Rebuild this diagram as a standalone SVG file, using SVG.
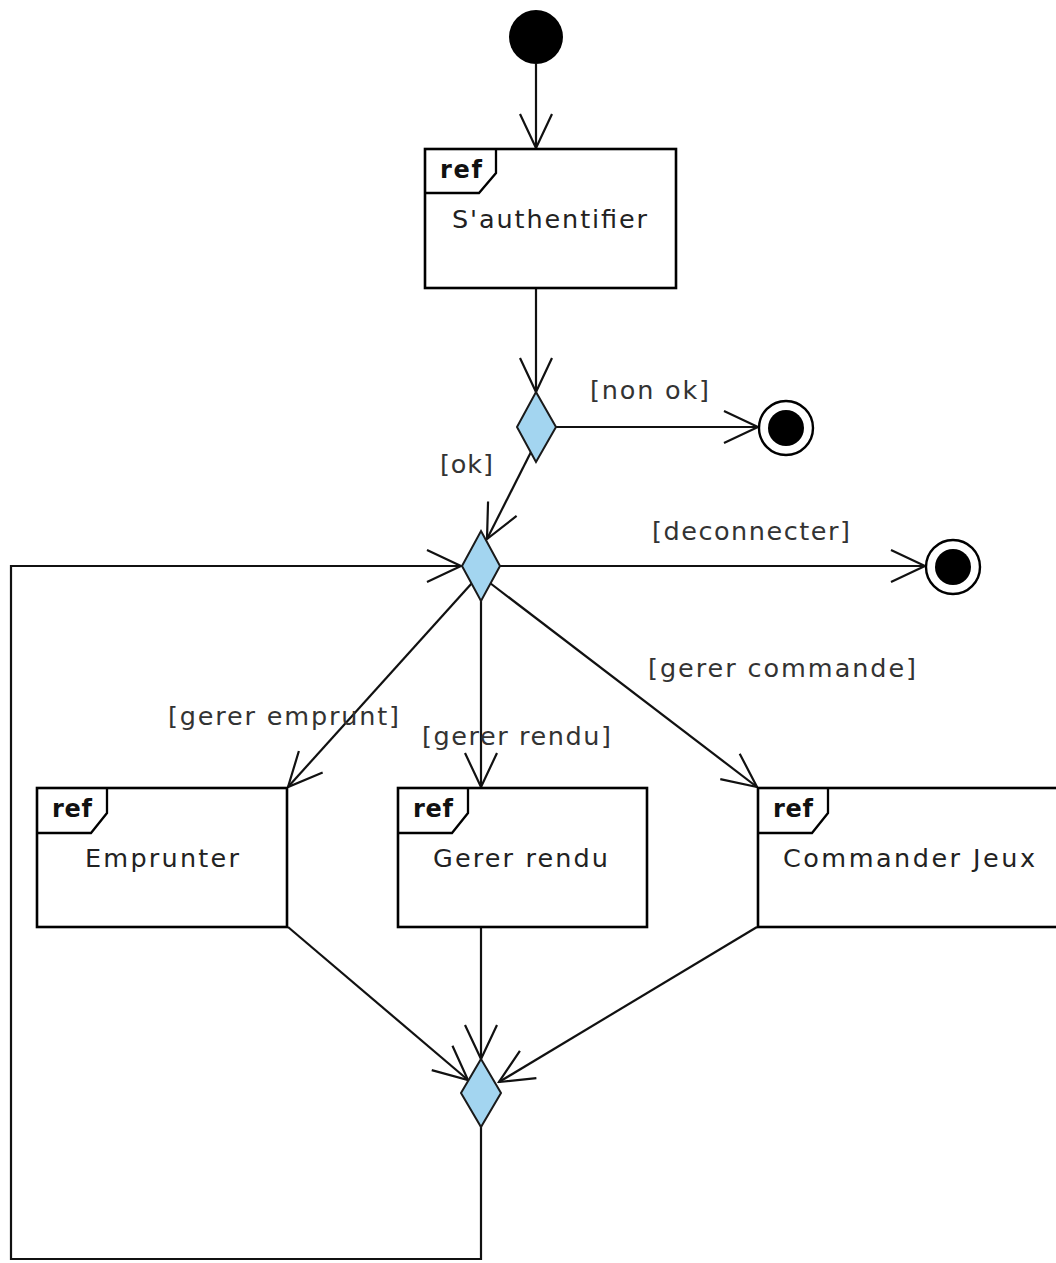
<svg xmlns="http://www.w3.org/2000/svg" width="1056" height="1263" viewBox="0 0 1056 1263">
<style>
  .box { fill: #ffffff; stroke: #000000; stroke-width: 2.6; }
  .tab { fill: none; stroke: #000000; stroke-width: 2.3; }
  .dec { fill: #a3d5f0; stroke: #1a1a1a; stroke-width: 2; }
  .conn { fill: none; stroke: #111111; stroke-width: 2.2; }
  .lbl { font-family: "DejaVu Sans", "Liberation Sans", sans-serif; font-size: 25.5px; fill: #333333; }
  .name { font-family: "DejaVu Sans", "Liberation Sans", sans-serif; font-size: 25.5px; fill: #222222; }
  .ref { font-family: "DejaVu Sans", "Liberation Sans", sans-serif; font-size: 24px; font-weight: bold; fill: #111111; }
</style>
<defs>
  <marker id="arr" viewBox="-38 -20 40 40" refX="0" refY="0" markerWidth="40" markerHeight="40" markerUnits="userSpaceOnUse" orient="auto">
    <path d="M -34 -16 L 0 0 L -34 16" fill="none" stroke="#111111" stroke-width="2.2"/>
  </marker>
</defs>

<g id="connectors">
  <line class="conn" x1="536" y1="64" x2="536" y2="148" marker-end="url(#arr)"/>
  <line class="conn" x1="536" y1="288" x2="536" y2="392" marker-end="url(#arr)"/>
  <line class="conn" x1="556" y1="427" x2="758" y2="427" marker-end="url(#arr)"/>
  <line class="conn" x1="533" y1="448" x2="487" y2="539" marker-end="url(#arr)"/>
  <line class="conn" x1="500" y1="566" x2="925" y2="566" marker-end="url(#arr)"/>
  <line class="conn" x1="472" y1="583" x2="288" y2="787" marker-end="url(#arr)"/>
  <line class="conn" x1="481" y1="600" x2="481" y2="787" marker-end="url(#arr)"/>
  <line class="conn" x1="490" y1="583" x2="757" y2="787" marker-end="url(#arr)"/>
  <line class="conn" x1="288" y1="927" x2="468" y2="1080" marker-end="url(#arr)"/>
  <line class="conn" x1="481" y1="927" x2="481" y2="1059" marker-end="url(#arr)"/>
  <line class="conn" x1="757" y1="927" x2="499" y2="1082" marker-end="url(#arr)"/>
  <polyline class="conn" points="481,1126 481,1259 11,1259 11,566 461,566" marker-end="url(#arr)"/>
  <text class="lbl" x="590" y="399" textLength="119" lengthAdjust="spacing">[non ok]</text>
  <text class="lbl" x="440" y="473" textLength="53" lengthAdjust="spacing">[ok]</text>
  <text class="lbl" x="652" y="540" textLength="198" lengthAdjust="spacing">[deconnecter]</text>
  <text class="lbl" x="648" y="677" textLength="268" lengthAdjust="spacing">[gerer commande]</text>
  <text class="lbl" x="168" y="725" textLength="231" lengthAdjust="spacing">[gerer emprunt]</text>
  <text class="lbl" x="422" y="745" textLength="189" lengthAdjust="spacing">[gerer rendu]</text>
</g>

<g id="start">
  <circle cx="536" cy="37" r="27" fill="#000000"/>
</g>

<g id="authentifier">
  <rect class="box" x="425" y="149" width="251" height="139"/>
  <path class="tab" d="M 425 193 L 479 193 L 496 173 L 496 149"/>
  <text class="ref" x="440" y="178" textLength="42" lengthAdjust="spacing">ref</text>
  <text class="name" x="452" y="228" textLength="195" lengthAdjust="spacing">S'authentifier</text>
</g>

<g id="decision1">
  <polygon class="dec" points="536,392 556,427 536,462 517,427"/>
</g>

<g id="final1">
  <circle cx="786" cy="428" r="27" fill="#ffffff" stroke="#000000" stroke-width="2.4"/>
  <circle cx="786" cy="428" r="18" fill="#000000"/>
</g>

<g id="decision2">
  <polygon class="dec" points="481,531 500,566 481,601 462,566"/>
</g>

<g id="final2">
  <circle cx="953" cy="567" r="27" fill="#ffffff" stroke="#000000" stroke-width="2.4"/>
  <circle cx="953" cy="567" r="18" fill="#000000"/>
</g>

<g id="emprunter">
  <rect class="box" x="37" y="788" width="250" height="139"/>
  <path class="tab" d="M 37 833 L 91 833 L 107 813 L 107 788"/>
  <text class="ref" x="52" y="817" textLength="40" lengthAdjust="spacing">ref</text>
  <text class="name" x="85" y="867" textLength="154" lengthAdjust="spacing">Emprunter</text>
</g>

<g id="gerer-rendu">
  <rect class="box" x="398" y="788" width="249" height="139"/>
  <path class="tab" d="M 398 833 L 452 833 L 468 813 L 468 788"/>
  <text class="ref" x="413" y="817" textLength="40" lengthAdjust="spacing">ref</text>
  <text class="name" x="433" y="867" textLength="175" lengthAdjust="spacing">Gerer rendu</text>
</g>

<g id="commander-jeux">
  <rect class="box" x="758" y="788" width="310" height="139"/>
  <path class="tab" d="M 758 833 L 812 833 L 828 813 L 828 788"/>
  <text class="ref" x="773" y="817" textLength="40" lengthAdjust="spacing">ref</text>
  <text class="name" x="783" y="867" textLength="252" lengthAdjust="spacing">Commander Jeux</text>
</g>

<g id="merge">
  <polygon class="dec" points="481,1059 501,1093 481,1127 461,1093"/>
</g>
</svg>
